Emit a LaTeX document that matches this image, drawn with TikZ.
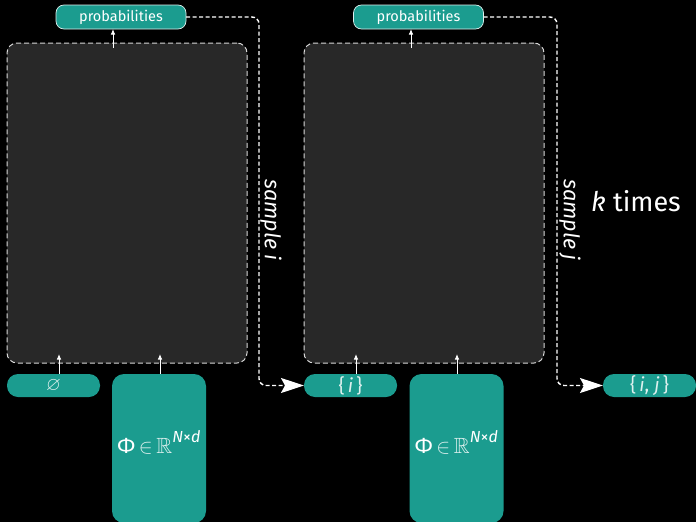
\documentclass[tikz,border=0pt]{standalone}
\usepackage{amssymb}
\usepackage{fontspec}
\setmainfont{Fira Sans}
\usetikzlibrary{arrows.meta,calc}
\definecolor{tealc}{HTML}{1B9C8F}
\definecolor{panel}{HTML}{282828}
\definecolor{rim}{HTML}{D8D8D8}
\newcommand{\phiinput}{%
  \raisebox{13pt}{\fontsize{22}{22}\selectfont Φ\,{\color{white!85!tealc}$\in$\,$\mathbb{R}$}\raisebox{0.5em}{\fontsize{16}{16}\selectfont\itshape N{\upshape ×}d}}}
\begin{document}
\begin{tikzpicture}[x=1pt,y=-1pt,
  every node/.style={inner sep=0pt, outer sep=0pt, text=white},
  panelbox/.style={fill=panel, draw=rim, dash pattern=on 5pt off 3pt, line width=1pt,
    rounded corners=10pt, minimum width=240pt, minimum height=320pt},
  probbox/.style={fill=tealc, draw=white!85!tealc, line width=0.7pt, rounded corners=8pt,
    minimum width=130pt, minimum height=24pt, font=\fontsize{14.5}{14.5}\selectfont},
  setbox/.style={fill=tealc, rounded corners=11pt, minimum width=93pt, minimum height=23pt,
    text=white!85!tealc, font=\fontsize{19}{19}\selectfont},
  phibox/.style={fill=tealc, rounded corners=12pt, minimum width=94pt, minimum height=149pt},
  sarrow/.style={white, line width=0.9pt, -{Latex[length=5.5pt,width=4.5pt]}},
  samplepath/.style={white, line width=1.4pt, dash pattern=on 4pt off 2.5pt, rounded corners=7pt,
    -{Stealth[length=23pt,width=15pt,inset=4pt]}},
  samplelabel/.style={rotate=-90, font=\fontsize{21.5}{21.5}\selectfont\itshape}
]
\fill[black] (0,0) rectangle (696,522);
\useasboundingbox (0,0) rectangle (696,522);

% first step
\node[panelbox] (box1) at (127,203) {};
\node[probbox] (prob1) at (121,17) {probabilities};
\node[setbox] (set1) at (53.5,385.5) {$\varnothing$};
\node[phibox] (phi1) at (159,448.5) {\phiinput};

% second step
\node[panelbox] (box2) at (424,203) {};
\node[probbox] (prob2) at (418.5,17) {probabilities};
\node[setbox] (set2) at (350.5,385.5) {\{\,\textit{i}\,\}};
\node[phibox] (phi2) at (456.5,448.5) {\phiinput};

% result
\node[setbox] (set3) at (649.5,385.5) {\{\,\textit{i}, \textit{j}\,\}};

% feeding arrows
\coordinate (o1) at (113,48);
\coordinate (o2) at (411,48);
\draw[sarrow] (o1) -- (o1 |- prob1.south);
\draw[sarrow] (o2) -- (o2 |- prob2.south);
\coordinate (s1) at (59,354);
\coordinate (f1) at (160,354);
\coordinate (s2) at (356,354);
\coordinate (f2) at (457,354);
\draw[sarrow] (set1.north -| s1) -- (s1);
\draw[sarrow] (phi1.north -| f1) -- (f1);
\draw[sarrow] (set2.north -| s2) -- (s2);
\draw[sarrow] (phi2.north -| f2) -- (f2);

% sampling loops
\draw[samplepath] (prob1.east) -- (259,17) -- (259,385.5) -- (set2.west);
\draw[samplepath] (prob2.east) -- (557,17) -- (557,385.5) -- (set3.west);
\node[samplelabel] (lab1) at (271,220) {sample \textit{i}};
\node[samplelabel] (lab2) at (570,220) {sample \textit{j}};
\node[font=\fontsize{27}{27}\selectfont] (ktimes) at (636,201) {\textit{k} times};
\end{tikzpicture}
\end{document}
